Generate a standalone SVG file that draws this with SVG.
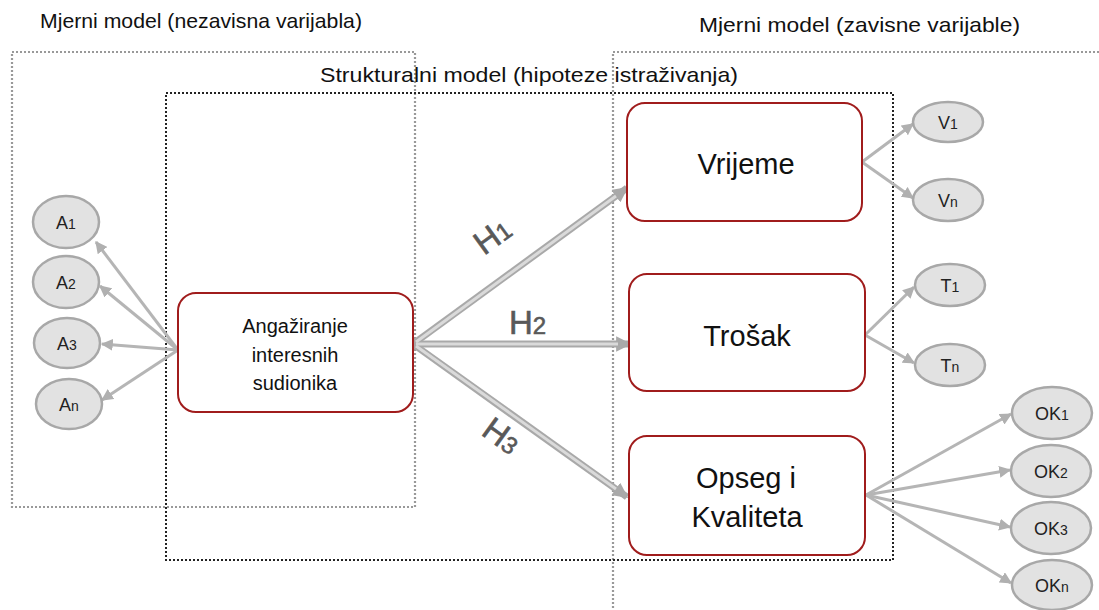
<svg xmlns="http://www.w3.org/2000/svg" width="1099" height="610" viewBox="0 0 1099 610">
<defs>
<style>
.title{font-family:"Liberation Sans",Arial,sans-serif;font-size:21px;fill:#111}
.box{fill:#fff;stroke:#a01c1c;stroke-width:2}
.lbl{font-family:"Liberation Sans",Arial,sans-serif;fill:#111;text-anchor:middle}
.ell{fill:#e2e2e2;stroke:#a8a8a8;stroke-width:2.5}
.elbl{font-family:"Liberation Sans",Arial,sans-serif;font-size:18px;fill:#222;text-anchor:middle}
.sm{stroke:#b5b5b5;stroke-width:3;fill:none}
.big{stroke:#a9a9a9;stroke-width:7;fill:none}
.bigi{stroke:#dadada;stroke-width:3;fill:none}
.h{font-family:"Liberation Sans",Arial,sans-serif;font-size:33px;fill:#595959;stroke:#595959;stroke-width:0.6}
.gdot{fill:none;stroke:#999;stroke-width:2.2;stroke-dasharray:2 2}
.kdot{fill:none;stroke:#222;stroke-width:2;stroke-dasharray:2 2}
</style>
<marker id="ah" viewBox="0 0 10 10" refX="9" refY="5" markerWidth="4" markerHeight="4" orient="auto">
<path d="M0,0 L10,5 L0,10 z" fill="#b0b0b0"/>
</marker>
<marker id="bh" viewBox="0 0 10 10" refX="9" refY="5" markerWidth="2.2" markerHeight="2.2" orient="auto">
<path d="M0,0 L10,5 L0,10 z" fill="#a9a9a9"/>
</marker>
</defs>
<rect width="1099" height="610" fill="#fff"/>

<g id="frames">
<rect class="gdot" x="12" y="52" width="403" height="455"/>
<path class="gdot" d="M1099,52 H613 V610"/>
<rect class="kdot" x="166" y="93" width="727" height="467"/>
<text class="title" x="40" y="28" textLength="322" lengthAdjust="spacingAndGlyphs">Mjerni model (nezavisna varijabla)</text>
<text class="title" x="699" y="32" textLength="321" lengthAdjust="spacingAndGlyphs">Mjerni model (zavisne varijable)</text>
<text class="title" x="320" y="82" textLength="418" lengthAdjust="spacingAndGlyphs">Strukturalni model (hipoteze istraživanja)</text>
</g>

<g id="connectors">
<line class="sm" x1="178" y1="350" x2="96" y2="242" marker-end="url(#ah)"/>
<line class="sm" x1="178" y1="350" x2="100" y2="286" marker-end="url(#ah)"/>
<line class="sm" x1="178" y1="350" x2="102" y2="344" marker-end="url(#ah)"/>
<line class="sm" x1="178" y1="350" x2="102" y2="400" marker-end="url(#ah)"/>
<line class="sm" x1="862" y1="162" x2="913" y2="124" marker-end="url(#ah)"/>
<line class="sm" x1="862" y1="162" x2="913" y2="198" marker-end="url(#ah)"/>
<line class="sm" x1="865" y1="335" x2="914" y2="287" marker-end="url(#ah)"/>
<line class="sm" x1="865" y1="335" x2="914" y2="363" marker-end="url(#ah)"/>
<line class="sm" x1="866" y1="495" x2="1011" y2="414" marker-end="url(#ah)"/>
<line class="sm" x1="866" y1="495" x2="1010" y2="470" marker-end="url(#ah)"/>
<line class="sm" x1="866" y1="495" x2="1010" y2="527" marker-end="url(#ah)"/>
<line class="sm" x1="866" y1="495" x2="1011" y2="583" marker-end="url(#ah)"/>
<line class="big" x1="413" y1="344" x2="627" y2="188" marker-end="url(#bh)"/>
<line class="big" x1="413" y1="344" x2="630" y2="344" marker-end="url(#bh)"/>
<line class="big" x1="413" y1="344" x2="627" y2="497" marker-end="url(#bh)"/>
<line class="bigi" x1="416" y1="342" x2="616" y2="196"/>
<line class="bigi" x1="416" y1="344" x2="618" y2="344"/>
<line class="bigi" x1="416" y1="346" x2="616" y2="489"/>
<text class="h" transform="translate(484,256) rotate(-36)">H<tspan font-size="24">1</tspan></text>
<text class="h" x="509" y="334">H<tspan font-size="24">2</tspan></text>
<text class="h" transform="translate(480,434) rotate(36)">H<tspan font-size="24">3</tspan></text>
</g>

<g id="n-angaz">
<rect class="box" x="178" y="293" width="235" height="119" rx="18"/>
<text class="lbl" font-size="20" x="295" y="333">Angažiranje</text>
<text class="lbl" font-size="20" x="295" y="362">interesnih</text>
<text class="lbl" font-size="20" x="295" y="390">sudionika</text>
</g>
<g id="n-vrijeme">
<rect class="box" x="627" y="103" width="235" height="118" rx="18"/>
<text class="lbl" font-size="29" x="746" y="174">Vrijeme</text>
</g>
<g id="n-trosak">
<rect class="box" x="629" y="274" width="236" height="117" rx="18"/>
<text class="lbl" font-size="29" x="747" y="346">Trošak</text>
</g>
<g id="n-opseg">
<rect class="box" x="629" y="436" width="236" height="119" rx="18"/>
<text class="lbl" font-size="29" x="746" y="488">Opseg i</text>
<text class="lbl" font-size="29" x="747" y="527">Kvaliteta</text>
</g>

<g id="n-a1"><ellipse class="ell" cx="66" cy="222" rx="33" ry="26"/><text class="elbl" x="66" y="229">A<tspan font-size="14">1</tspan></text></g>
<g id="n-a2"><ellipse class="ell" cx="66" cy="282" rx="33" ry="26"/><text class="elbl" x="66" y="289">A<tspan font-size="14">2</tspan></text></g>
<g id="n-a3"><ellipse class="ell" cx="67" cy="343" rx="33" ry="25"/><text class="elbl" x="67" y="350">A<tspan font-size="14">3</tspan></text></g>
<g id="n-an"><ellipse class="ell" cx="69" cy="404" rx="33" ry="25"/><text class="elbl" x="69" y="411">A<tspan font-size="14">n</tspan></text></g>

<g id="n-v1"><ellipse class="ell" cx="948" cy="122" rx="35" ry="20"/><text class="elbl" x="948" y="129">V<tspan font-size="14">1</tspan></text></g>
<g id="n-vn"><ellipse class="ell" cx="948" cy="200" rx="35" ry="21"/><text class="elbl" x="948" y="207">V<tspan font-size="14">n</tspan></text></g>
<g id="n-t1"><ellipse class="ell" cx="950" cy="285" rx="35" ry="21"/><text class="elbl" x="950" y="292">T<tspan font-size="14">1</tspan></text></g>
<g id="n-tn"><ellipse class="ell" cx="950" cy="365" rx="35" ry="21"/><text class="elbl" x="950" y="372">T<tspan font-size="14">n</tspan></text></g>

<g id="n-ok1"><ellipse class="ell" cx="1052" cy="413" rx="40" ry="26"/><text class="elbl" x="1052" y="420">OK<tspan font-size="14">1</tspan></text></g>
<g id="n-ok2"><ellipse class="ell" cx="1051" cy="471" rx="40" ry="26"/><text class="elbl" x="1051" y="478">OK<tspan font-size="14">2</tspan></text></g>
<g id="n-ok3"><ellipse class="ell" cx="1051" cy="528" rx="40" ry="26"/><text class="elbl" x="1051" y="535">OK<tspan font-size="14">3</tspan></text></g>
<g id="n-okn"><ellipse class="ell" cx="1052" cy="585" rx="40" ry="25"/><text class="elbl" x="1052" y="592">OK<tspan font-size="14">n</tspan></text></g>
</svg>
